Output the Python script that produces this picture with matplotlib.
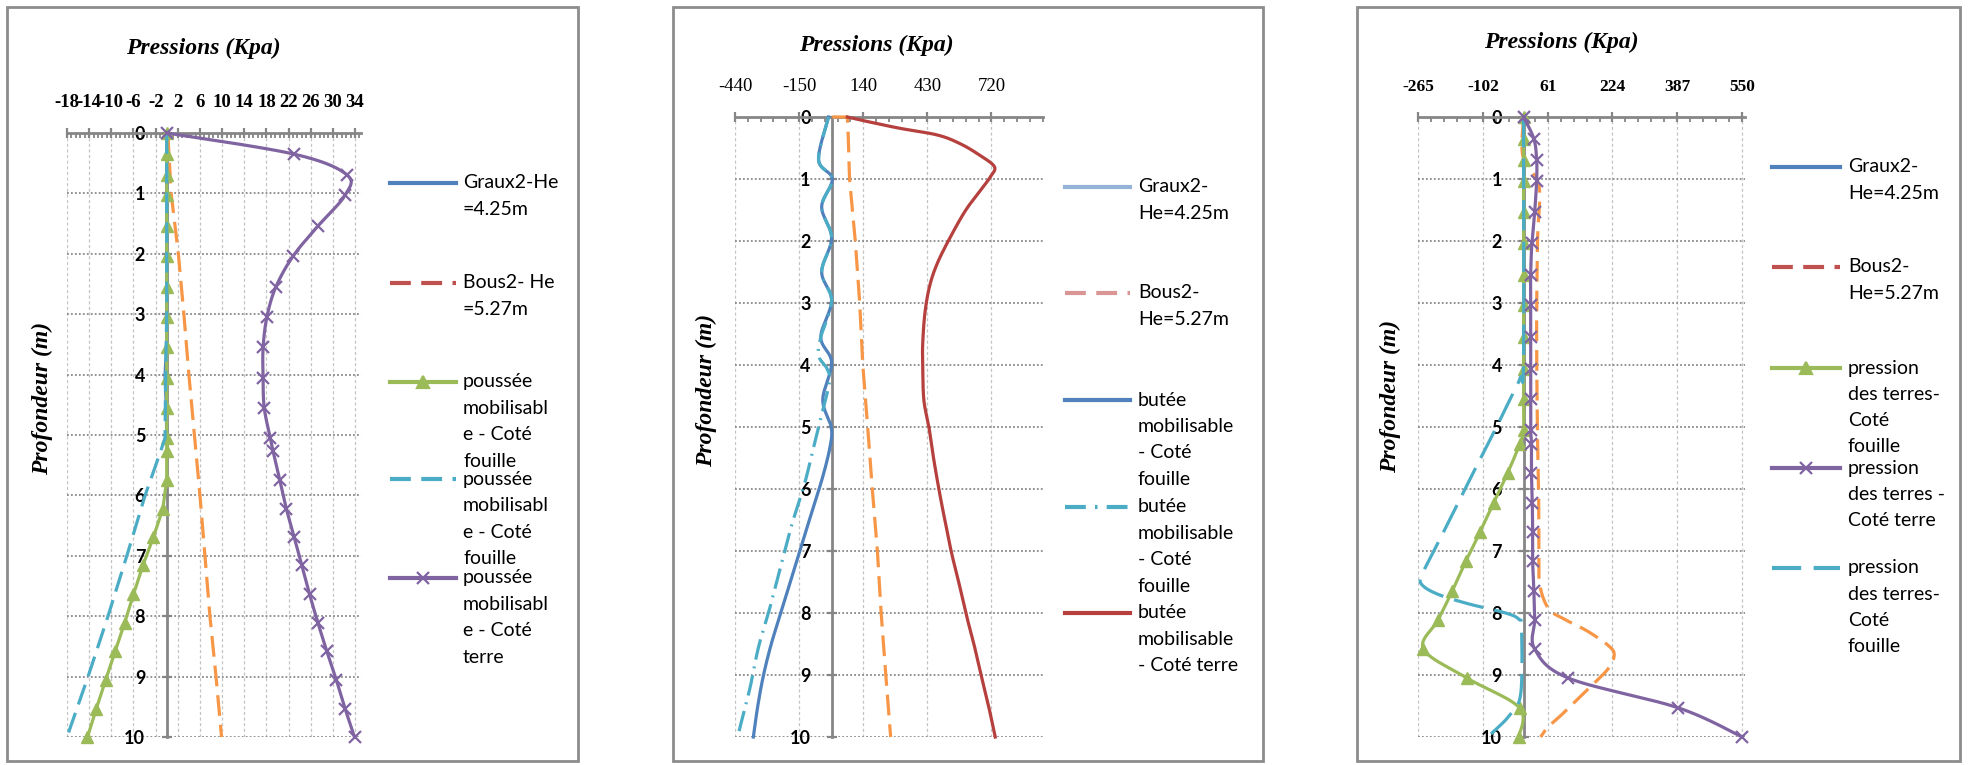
import numpy as np
import matplotlib
matplotlib.use("Agg")
import matplotlib.pyplot as plt
from matplotlib.lines import Line2D
from matplotlib.patches import Rectangle
from matplotlib.ticker import FixedLocator

# ---------------- DATA ----------------
depth_ticks = [0, 1, 2, 3, 4, 5, 6, 7, 8, 9, 10]
depth_labels = ["0", "1", "2", "3", "4", "5", "6", "7", "8", "9", "10"]

# depths of the marker points (m)
d_mark = [0, 0.35, 0.69, 1.03, 1.54, 2.04, 2.55, 3.04, 3.55, 4.06, 4.55, 5.05,
          5.27, 5.74, 6.22, 6.69, 7.16, 7.64, 8.11, 8.58, 9.05, 9.53, 10.0]

# ---- panel 1 ----
p1_xticks = [-18, -14, -10, -6, -2, 2, 6, 10, 14, 18, 22, 26, 30, 34]
p1_xlabels = ["-18", "-14", "-10", "-6", "-2", "2", "6", "10", "14", "18", "22", "26", "30", "34"]
p1_green = [0, 0, 0, 0, 0, 0, 0, 0, 0, 0, 0, 0, 0, 0, -0.7, -2.4, -4.3, -6.0, -7.6,
            -9.3, -11.0, -12.7, -14.3]
p1_purple = [0, 23.0, 32.5, 32.2, 27.3, 22.8, 19.7, 18.1, 17.4, 17.4, 17.6, 18.7,
             19.2, 20.4, 21.6, 23.0, 24.4, 25.8, 27.3, 28.9, 30.6, 32.2, 33.9]
p1_orange_d = [0, 1, 2, 3, 4, 5, 6, 7, 8, 9, 10]
p1_orange = [0.2, 0.8, 2.1, 3.1, 4.0, 5.0, 6.0, 6.9, 7.8, 8.9, 9.9]
p1_teal_d = [0, 1, 2, 3, 4, 5.05, 5.27, 6, 7, 8, 9, 10]
p1_teal = [0, 0, 0, 0, -0.2, -0.3, -1.1, -3.9, -7.2, -10.6, -14.2, -18.0]
p1_blue_d = [0, 3.5, 4.0, 4.5, 5.0]
p1_blue = [0, 0, -0.3, -0.1, 0]

# ---- panel 2 ----
p2_xticks = [-440, -150, 140, 430, 720]
p2_xlabels = ["-440", "-150", "140", "430", "720"]
p2_red_d = [0, 0.05, 0.18, 0.29, 0.43, 0.61, 0.8, 0.96, 1.17, 1.5, 1.93, 2.36, 2.73,
            3.16, 3.65, 3.98, 4.56, 5.0, 5.48, 6.02, 6.5, 7.04, 7.52, 8.0, 8.48, 9.0,
            9.52, 10.0]
p2_red = [68, 129, 302, 475, 578, 664, 733, 716, 673, 604, 535, 475, 440,
          419, 409, 409, 414, 437, 457, 483, 509, 540, 573, 604, 639, 673,
          708, 737]
p2_blue_d = [0, 0.69, 1.0, 1.45, 1.95, 2.5, 2.96, 3.55, 3.96, 4.56, 5.0, 5.3, 5.8,
             6.4, 7.0, 7.5, 8.0, 8.5, 9.0, 9.5, 10.0]
p2_blue = [-17, -62, 0, -48, -3, -48, -3, -52, -3, -43, -5, -9, -43,
           -95, -147, -190, -233, -276, -311, -337, -357]
p2_teal_d = [0, 0.69, 1.0, 1.45, 1.95, 2.5, 2.96, 3.55, 3.85, 4.05, 4.25, 4.73, 5.1,
             5.53, 5.96, 6.55, 7.25, 7.9, 8.54, 9.19, 9.68, 10.0]
p2_teal = [-17, -62, 0, -48, -3, -48, -3, -52, -62, -25, -12, -43, -69,
           -98, -129, -181, -233, -281, -333, -371, -406, -428]
p2_orange_d = [0, 0.0, 0.3, 1, 2, 3, 4, 5, 6, 7, 8, 9, 10]
p2_orange = [0, 68, 72, 78, 104, 124, 138, 160, 181, 204, 221, 242, 264]

# ---- panel 3 ----
p3_xticks = [-265, -102, 61, 224, 387, 550]
p3_xlabels = ["-265", "-102", "61", "224", "387", "550"]
p3_green = [0, 0, 0, 0, 0, 0, 0, 0, 0, 0, 0, 0, -9, -40, -75, -109, -145, -179,
            -215, -252, -142, -10, -12]
p3_purple = [0, 26, 33, 33, 28, 21, 18, 18, 18, 18, 18, 18, 20, 20, 22, 23, 23, 26,
             28, 28, 113, 390, 551]
p3_orange_d = [0, 0.62, 1.0, 1.25, 1.6, 2.1, 3.45, 5.05, 6.1, 7.07, 7.55, 7.93, 8.1,
               8.3, 8.55, 8.7, 8.9, 9.1, 9.35, 9.6, 9.83, 10.0]
p3_orange = [0, -2, 33, 41, 38, 35, 33, 35, 38, 39, 41, 63, 103,
             163, 218, 228, 213, 183, 143, 103, 63, 43]
p3_teal_d = [0, 3.9, 4.2, 4.5, 5.0, 5.5, 6.0, 6.5, 7.0, 7.4, 7.55, 7.7, 7.85, 8.0,
             8.1, 8.25, 9.3, 9.65, 9.95]
p3_teal = [0, 0, -8, -30, -68, -108, -147, -186, -226, -257, -255, -215, -140, -45,
           -12, -5, -7, -35, -82]

# legend texts
p1_leg = [["Graux2-He", "=4.25m"], ["Bous2- He", "=5.27m"],
          ["poussée", "mobilisabl", "e - Coté", "fouille"],
          ["poussée", "mobilisabl", "e - Coté", "fouille"],
          ["poussée", "mobilisabl", "e - Coté", "terre"]]
p2_leg = [["Graux2-", "He=4.25m"], ["Bous2-", "He=5.27m"],
          ["butée", "mobilisable", "- Coté", "fouille"],
          ["butée", "mobilisable", "- Coté", "fouille"],
          ["butée", "mobilisable", "- Coté terre"]]
p3_leg = [["Graux2-", "He=4.25m"], ["Bous2-", "He=5.27m"],
          ["pression", "des terres-", "Coté", "fouille"],
          ["pression", "des terres -", "Coté terre"],
          ["pression", "des terres-", "Coté", "fouille"]]

# ---------------- STYLE ----------------
W, H = 1972, 765
BLUE = "#4f81bd"; RED = "#c0504d"; GREEN = "#9bbb59"; PURPLE = "#8064a2"
TEAL = "#4bacc6"; ORANGE = "#f79646"; DRED = "#b5403d"
LBLUE = "#95b3d7"; PINK = "#d99694"
GRAY = "#868686"
LW = 2.3

fig = plt.figure(figsize=(W / 100, H / 100), dpi=100)
fig.patch.set_facecolor("white")


def fx(x):
    return x / W


def fy(y):
    return 1 - y / H


def smooth(x, y, n=24):
    pts = np.column_stack([np.asarray(x, float), np.asarray(y, float)])
    P = np.vstack([pts[0], pts, pts[-1]])
    out = []
    t = np.linspace(0, 1, n, endpoint=False)[:, None]
    for i in range(1, len(P) - 2):
        p0, p1, p2, p3 = P[i - 1], P[i], P[i + 1], P[i + 2]
        seg = 0.5 * ((2 * p1) + (-p0 + p2) * t + (2 * p0 - 5 * p1 + 4 * p2 - p3) * t ** 2
                     + (-p0 + 3 * p1 - 3 * p2 + p3) * t ** 3)
        out.append(seg)
    out.append(pts[-1:])
    s = np.vstack(out)
    return s[:, 0], s[:, 1]


def make_axes(px0, px1, py0, py1, xlim, xticks, xlabels, minor_step, bold_x, xfs):
    ax = fig.add_axes([fx(px0), fy(py1), fx(px1 - px0), (py1 - py0) / H])
    ax.set_facecolor("none")
    ax.set_xlim(*xlim)
    ax.set_ylim(10, 0)
    for s in ["bottom", "right"]:
        ax.spines[s].set_visible(False)
    ax.spines["top"].set_color(GRAY)
    ax.spines["top"].set_linewidth(2)
    ax.spines["left"].set_position(("data", 0))
    ax.spines["left"].set_color(GRAY)
    ax.spines["left"].set_linewidth(2)
    ax.xaxis.set_ticks_position("top")
    ax.set_xticks(xticks)
    ax.set_xticklabels(xlabels, fontfamily="Liberation Serif",
                       fontweight="bold" if bold_x else "normal", fontsize=xfs)
    minors = np.arange(xticks[0], xlim[1] + 1e-9, minor_step)
    ax.xaxis.set_minor_locator(FixedLocator(minors))
    ax.tick_params(axis="x", which="major", direction="inout", length=7, width=1.6,
                   color=GRAY, pad=12)
    ax.tick_params(axis="x", which="minor", direction="in", length=3.5, width=1.3,
                   color=GRAY)
    ax.set_yticks(depth_ticks)
    ax.set_yticklabels(depth_labels, fontfamily="Lato", fontweight="bold", fontsize=13)
    ax.tick_params(axis="y", which="major", direction="inout", length=7, width=1.6,
                   color=GRAY, pad=12)
    ax.xaxis.grid(True, which="major", color="#c4c4c4", linestyle=(0, (2.5, 2)), lw=0.9)
    ax.yaxis.grid(True, which="major", color="#8a8a8a", linestyle=(0, (1, 1.2)), lw=1.3)
    ax.set_axisbelow(True)
    return ax


def frame(x0, y0, x1, y1):
    fig.add_artist(Rectangle((fx(x0), fy(y1)), fx(x1 - x0), (y1 - y0) / H,
                             transform=fig.transFigure, fill=False, ec="#8c8c8c", lw=2))


def title_and_ylabel(tx, ty, lx, ly):
    fig.text(fx(tx), fy(ty), "Pressions (Kpa)", ha="center", va="center",
             fontfamily="Liberation Serif", fontweight="bold", fontstyle="italic", fontsize=17)
    fig.text(fx(lx), fy(ly), "Profondeur (m)", ha="center", va="center", rotation=90,
             fontfamily="Liberation Serif", fontweight="bold", fontstyle="italic", fontsize=17)


def legend(x0, x1, xt, ys, lh, styles, texts):
    for y, st, lines in zip(ys, styles, texts):
        ln = Line2D([fx(x0), fx(x1)], [fy(y), fy(y)], transform=fig.transFigure,
                    color=st["color"], lw=3, linestyle=st.get("ls", "-"))
        fig.add_artist(ln)
        if "marker" in st:
            mk = Line2D([fx((x0 + x1) / 2)], [fy(y)], transform=fig.transFigure,
                        color=st["color"], marker=st["marker"], markersize=9, mew=1.6,
                        linestyle="none")
            fig.add_artist(mk)
        for i, t in enumerate(lines):
            fig.text(fx(xt), fy(y + i * lh), t, ha="left", va="center",
                     fontfamily="Lato", fontsize=14, color="black")


DASH = (0, (6.5, 2.8))
LDASH = (0, (9.5, 3.5))
DASHDOT = (0, (6.5, 2.2, 0.6, 2.2))
NC = dict(clip_on=False)

# ---------------- PANEL 1 ----------------
frame(7, 7, 578, 761)
ax1 = make_axes(67, 360.6, 133, 737, (-18, 35), p1_xticks, p1_xlabels, 0.8, True, 13.5)
ax1.plot(p1_blue, p1_blue_d, color=BLUE, lw=LW, zorder=3, **NC)
ax1.plot(p1_orange, p1_orange_d, color=ORANGE, lw=LW, linestyle=DASH, zorder=3, **NC)
ax1.plot(p1_green, d_mark, color=GREEN, lw=LW, zorder=4, **NC)
ax1.plot(p1_green, d_mark, color=GREEN, marker="^", markersize=9, linestyle="none",
         zorder=4, **NC)
ax1.plot(p1_teal, p1_teal_d, color=TEAL, lw=LW, linestyle=DASH, zorder=5, **NC)
sx, sy = smooth(p1_purple, d_mark)
ax1.plot(sx, sy, color=PURPLE, lw=LW, zorder=6, **NC)
ax1.plot(p1_purple, d_mark, color=PURPLE, marker="x", markersize=9, mew=1.6,
         linestyle="none", zorder=6, **NC)
title_and_ylabel(203, 48, 42, 398)
legend(390, 456, 463, [183, 283, 382, 479, 578], 26.5,
       [dict(color=BLUE), dict(color=RED, ls=(0, (5, 2.5))),
        dict(color=GREEN, marker="^"), dict(color=TEAL, ls=(0, (5, 2.5))),
        dict(color=PURPLE, marker="x")], p1_leg)

# ---------------- PANEL 2 ----------------
frame(673, 7, 1263, 761)
ax2 = make_axes(735, 1043, 117, 737, (-440, 953), p2_xticks, p2_xlabels, 58, False, 13.5)
bx, by = smooth(p2_blue, p2_blue_d)
ax2.plot(bx, by, color=BLUE, lw=LW, zorder=3, **NC)
tx_, ty_ = smooth(p2_teal, p2_teal_d)
ax2.plot(tx_, ty_, color=TEAL, lw=LW, linestyle=DASHDOT, zorder=4, **NC)
ax2.plot(p2_orange, p2_orange_d, color=ORANGE, lw=LW, linestyle=DASH, zorder=4, **NC)
rx, ry = smooth(p2_red, p2_red_d)
ax2.plot(rx, ry, color=DRED, lw=LW, zorder=5, **NC)
title_and_ylabel(876, 45, 706, 390)
legend(1065, 1130, 1138, [187, 293, 400, 507, 613], 26.4,
       [dict(color=LBLUE), dict(color=PINK, ls=(0, (5, 2.5))),
        dict(color=BLUE), dict(color=TEAL, ls=(0, (5, 2.2, 0.6, 2.2))),
        dict(color=DRED)], p2_leg)

# ---------------- PANEL 3 ----------------
frame(1357, 7, 1960, 761)
ax3 = make_axes(1418.3, 1744.7, 117, 737, (-265, 557), p3_xticks, p3_xlabels, 32.6, True, 12.5)
ox, oy = smooth(p3_orange, p3_orange_d)
ax3.plot(ox, oy, color=ORANGE, lw=LW, linestyle=DASH, zorder=3, **NC)
gx, gy = smooth(p3_green, d_mark)
ax3.plot(gx, gy, color=GREEN, lw=LW, zorder=4, **NC)
ax3.plot(p3_green, d_mark, color=GREEN, marker="^", markersize=9, linestyle="none",
         zorder=4, **NC)
tx3, ty3 = smooth(p3_teal, p3_teal_d)
ax3.plot(tx3, ty3, color=TEAL, lw=LW, linestyle=LDASH, zorder=5, **NC)
px3, py3 = smooth(p3_purple, d_mark)
ax3.plot(px3, py3, color=PURPLE, lw=LW, zorder=6, **NC)
ax3.plot(p3_purple, d_mark, color=PURPLE, marker="x", markersize=9, mew=1.6,
         linestyle="none", zorder=6, **NC)
title_and_ylabel(1561, 42, 1390, 396)
legend(1772, 1840, 1848, [167, 267, 368, 468, 568], 26.2,
       [dict(color=BLUE), dict(color=RED, ls=(0, (5, 2.5))),
        dict(color=GREEN, marker="^"), dict(color=PURPLE, marker="x"),
        dict(color=TEAL, ls=(0, (7, 3)))], p3_leg)

fig.savefig("out.png", dpi=100, facecolor="white")
